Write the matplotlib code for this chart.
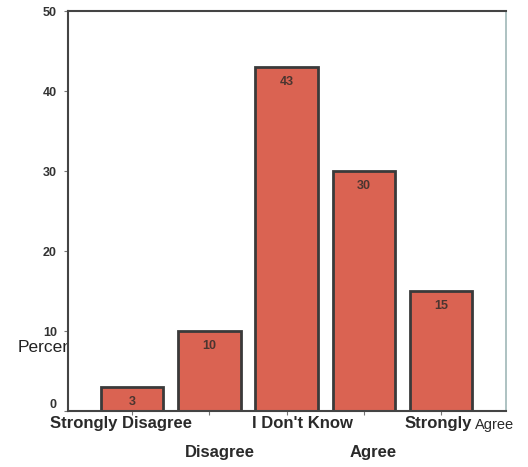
import matplotlib
matplotlib.use("Agg")
import matplotlib.pyplot as plt

categories = ["Strongly Disagree", "Disagree", "I Don't Know", "Agree", "Strongly Agree"]
values = [3, 10, 43, 30, 15]
yticks = [0, 10, 20, 30, 40, 50]

lab_font = "Liberation Sans"

fig = plt.figure(figsize=(5.28, 4.67), dpi=100)
ax = fig.add_axes([68/528, 56/467, 438/528, 400/467])
ax.set_facecolor("white")

x = list(range(len(categories)))
ax.bar(x, values, width=0.81, color="#DA6352", edgecolor="#3a3a3a", linewidth=2, zorder=2)
for xi, v in zip(x, values):
    ax.text(xi, v - 1.1, str(v), ha="center", va="top", fontsize=9, fontweight="bold",
            family=lab_font, color="#4a3530", zorder=3)

ax.set_xlim(-0.83, 4.84)
ax.set_ylim(0, 50)
ax.set_yticks(yticks)
ax.set_yticklabels([str(t) for t in yticks], family=lab_font, fontweight="bold", fontsize=9, color="#333333")
ax.get_yticklabels()[0].set_verticalalignment("bottom")
ax.tick_params(axis="y", length=3, color="#777777", pad=5)
ax.set_xticks(x)
ax.set_xticklabels([])
ax.tick_params(axis="x", length=3, color="#777777")

for s in ["left", "bottom", "top"]:
    ax.spines[s].set_color("#444444")
    ax.spines[s].set_linewidth(1.5)
ax.spines["right"].set_color("#9fb8b8")
ax.spines["right"].set_linewidth(1.2)

xt = ax.get_xaxis_transform()
# staggered category labels (label centre shifts relative to the tick, in category units)
shifts = [-0.14, 0.13, 0.2, 0.12, 0.0]
rows = [0, 1, 0, 1, 0]
for xi, cat, sh, row in zip(x, categories, shifts, rows):
    y = -0.012 if row == 0 else -0.086
    if cat == "Strongly Agree":
        ax.text(xi + 0.4, y, "Strongly", transform=xt, ha="right", va="top",
                fontsize=12, fontweight="bold", family=lab_font, color="#2a2a2a")
        ax.text(xi + 0.44, y - 0.006, "Agree", transform=xt, ha="left", va="top",
                fontsize=10.5, family=lab_font, color="#2a2a2a")
    else:
        ax.text(xi + sh, y, cat, transform=xt, ha="center", va="top",
                fontsize=12, fontweight="bold", family=lab_font, color="#2a2a2a")

# y axis label partly hidden behind the plot area
fig.text(18/528, 1 - 348/467, "Percent", ha="left", va="center", fontsize=12.5,
         family="Liberation Sans", color="#222222", zorder=-1)

fig.savefig("out.png", dpi=100)
